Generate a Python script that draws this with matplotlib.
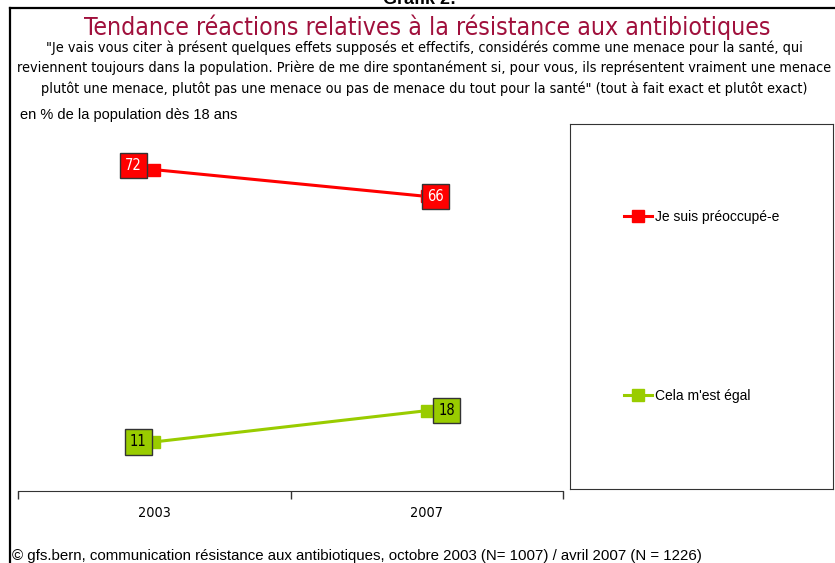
import matplotlib
matplotlib.use("Agg")
import matplotlib.pyplot as plt
from matplotlib.lines import Line2D
from matplotlib import font_manager

# data
years = ["2003", "2007"]
series_names = ["Je suis préoccupé-e", "Cela m'est égal"]
preoccupe = [72, 66]
egal = [11, 18]
colors = ["#FF0000", "#99CC00"]
text_colors = ["white", "black"]
# label offsets (points) for each value label
offsets = [[(-15, 3), (6.5, 0)], [(-11.5, 0), (14.5, 0)]]

fonts = font_manager.fontManager.ttflist
names = {f.name for f in fonts}
have_cond = any(f.name == "DejaVu Sans" and f.stretch in ("condensed", 700) for f in fonts)
if "Liberation Sans Narrow" in names:
    narrow = dict(family=["Liberation Sans Narrow", "DejaVu Sans"])
    nscale = 1.0
elif have_cond:
    narrow = dict(family=["DejaVu Sans"], fontstretch="condensed")
    nscale = 0.94
else:
    narrow = dict(family=["DejaVu Sans"])
    nscale = 0.84
plain = dict(family=["Liberation Sans", "DejaVu Sans"])

W, H = 835, 563
fig = plt.figure(figsize=(W / 100, H / 100), dpi=100)

# outer frame (goes past the right and bottom edge)
fig.add_artist(Line2D([10 / W, 10 / W], [0, 1 - 8 / H], color="black", lw=1.6))
fig.add_artist(Line2D([10 / W, 1], [1 - 8 / H, 1 - 8 / H], color="black", lw=1.6))

fig.text(0.503, 1.0, "Grafik 2:", ha="center", va="center", fontsize=13,
         fontweight="bold", **plain)
fig.text(0.512, 1 - 27.5 / H, "Tendance réactions relatives à la résistance aux antibiotiques",
         ha="center", va="center", fontsize=19 * nscale, color="#A0103C", **narrow)
subtitle = ("\"Je vais vous citer à présent quelques effets supposés et effectifs, considérés comme une menace pour la santé, qui\n"
            "reviennent toujours dans la population. Prière de me dire spontanément si, pour vous, ils représentent vraiment une menace\n"
            "plutôt une menace, plutôt pas une menace ou pas de menace du tout pour la santé\" (tout à fait exact et plutôt exact)")
sub_size = 11.05 * nscale
fig.text(0.508, 1 - 68 / H, subtitle, ha="center", va="center", fontsize=sub_size,
         linespacing=1.5, **narrow)
fig.text(20 / W, 1 - 115 / H, "en % de la population dès 18 ans", ha="left", va="center",
         fontsize=10.5, **plain)
fig.text(12 / W, 1 - 556 / H,
         "© gfs.bern, communication résistance aux antibiotiques, octobre 2003 (N= 1007) / avril 2007 (N = 1226)",
         ha="left", va="center", fontsize=10.8, **plain)

# main axes
ax = fig.add_axes([18 / W, 1 - 491 / H, (563 - 18) / W, (491 - 125) / H])
x = list(range(len(years)))
handles = []
for vals, col, tcol, offs, name in zip([preoccupe, egal], colors, text_colors, offsets, series_names):
    h, = ax.plot(x, vals, color=col, lw=2.2, marker="s", markersize=9, label=name)
    handles.append(h)
    for xi, v, (dx, dy) in zip(x, vals, offs):
        ax.annotate(str(v), (xi, v), xytext=(dx, dy), textcoords="offset points",
                    ha="center", va="center", fontsize=10.5, color=tcol, **narrow,
                    bbox=dict(boxstyle="square,pad=0.35", fc=col, ec="#333333", lw=1))

ax.set_xlim(-0.5, 1.5)
ax.set_ylim(0, 82)
ax.set_xticks([-0.5, 0.5, 1.5])
ax.set_xticklabels([])
ax.set_xticks(x, minor=True)
ax.set_xticklabels(years, minor=True, fontsize=11 * nscale, **narrow)
ax.tick_params(axis="x", which="major", length=6, width=1, color="#333333", direction="out")
ax.tick_params(axis="x", which="minor", length=0, pad=11)
ax.set_yticks([])
for s in ["left", "right", "top"]:
    ax.spines[s].set_visible(False)
ax.spines["bottom"].set_color("#333333")

# legend box
lax = fig.add_axes([570 / W, 1 - 489 / H, (833 - 570) / W, (489 - 124) / H])
lax.set_xticks([])
lax.set_yticks([])
for s in lax.spines.values():
    s.set_color("#333333")
lax.legend(handles=handles, loc="center", frameon=False, labelspacing=11.9,
           handlelength=2.0, handletextpad=0.2, prop={"family": plain["family"], "size": 10})

fig.savefig("out.png", dpi=100)
